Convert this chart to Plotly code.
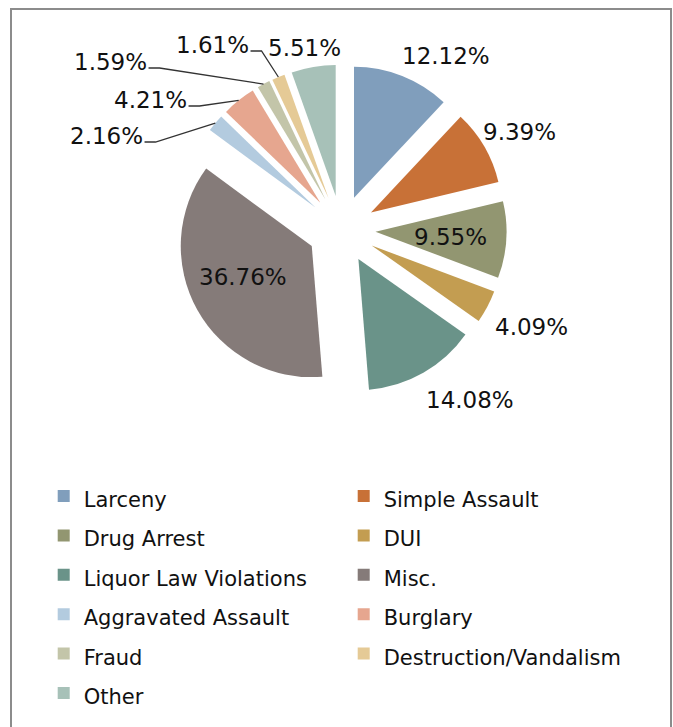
import math
import plotly.graph_objects as go

categories = ["Larceny", "Simple Assault", "Drug Arrest", "DUI", "Liquor Law Violations",
              "Misc.", "Aggravated Assault", "Burglary", "Fraud", "Destruction/Vandalism", "Other"]
values = [12.12, 9.39, 9.55, 4.09, 14.08, 36.76, 2.16, 4.21, 1.59, 1.61, 5.51]
colors = ["#809EBC", "#C87137", "#929671", "#C39D51", "#6A9389", "#857B79",
          "#B3CBDF", "#E6A68F", "#C3C5A9", "#E5CA96", "#A7C1B8"]

# label centres on the page (px) and whether a leader line is drawn
label_px = [(446, 56), (519, 132), (450, 237), (531, 327), (470, 400), (243, 277),
            (106, 136), (150, 100), (110, 62), (212, 45), (304, 48)]
leader = [False, False, False, False, False, False, True, True, True, True, False]

W, H = 673, 727
ML, MR, MT, MB = 3, 2, 1, 0
PW, PH = W - ML - MR, H - MT - MB
CX, CY, R, PULL = 341.5, 229.5, 131.0, 0.26
half = R * (1 + PULL)
dom_x = [(CX - half - ML) / PW, (CX + half - ML) / PW]
y0 = 1 - (CY + half - MT) / PH
dom_y = [y0, y0 + 2 * half / PH]

FONT = "DejaVu Sans"
LBL = 23
legend_labels = ["<span style='font-size:21px'>%s</span>" % c for c in categories]


def to_paper(x, y):
    return (x - ML) / PW, 1 - (y - MT) / PH


def text_w(s, size):
    wmap = {".": 0.318, "%": 0.95}
    return sum(wmap.get(ch, 0.636) for ch in s) * size


fig = go.Figure(go.Pie(
    labels=legend_labels,
    values=values,
    sort=False,
    direction="clockwise",
    rotation=0,
    pull=PULL,
    marker=dict(colors=colors, line=dict(width=0)),
    textinfo="none",
    domain=dict(x=dom_x, y=dom_y),
    hoverinfo="label+value",
))

total = sum(values)
cum = 0.0
for i, v in enumerate(values):
    mid = (cum + v / 2) / total * 2 * math.pi
    cum += v
    txt = "%.2f%%" % v
    lx, ly = label_px[i]
    ax_, ay_ = to_paper(lx, ly)
    fig.add_annotation(x=ax_, y=ay_, xref="paper", yref="paper", text=txt,
                       showarrow=False, xanchor="center", yanchor="middle",
                       font=dict(family=FONT, size=LBL, color="#111111"))
    if leader[i]:
        px = CX + R * (1 + PULL) * math.sin(mid)
        py = CY - R * (1 + PULL) * math.cos(mid)
        sx = lx + text_w(txt, LBL) / 2 + 2
        sy = ly + 6
        p0 = to_paper(sx, sy)
        p1 = to_paper(sx + 11, sy)
        p2 = to_paper(px, py)
        fig.add_shape(type="path", xref="paper", yref="paper",
                      path="M %f,%f L %f,%f L %f,%f" % (p0[0], p0[1], p1[0], p1[1], p2[0], p2[1]),
                      line=dict(color="#333333", width=1.3))

# chart frame (page px: left 11, top 9, right 671, open at the bottom)
f0 = to_paper(11, 9)
f1 = to_paper(671, 780)
fig.add_shape(type="rect", xref="paper", yref="paper", x0=f0[0], x1=f1[0], y0=f1[1], y1=f0[1],
              line=dict(color="#8C8C8C", width=2), fillcolor="rgba(0,0,0,0)", layer="below")

lg = to_paper(43.7, 471.3)
fig.update_layout(
    width=W, height=H,
    margin=dict(l=ML, r=MR, t=MT, b=MB, autoexpand=False),
    paper_bgcolor="white", plot_bgcolor="white",
    showlegend=True,
    legend=dict(orientation="h", x=lg[0], y=lg[1], xanchor="left", yanchor="top",
                entrywidth=255, entrywidthmode="pixels", traceorder="normal",
                font=dict(family=FONT, size=28, color="#111111")),
)

fig.write_html("out.html", config={"displayModeBar": False},
               post_script="document.body.style.margin='0px';document.body.style.overflow='hidden';")
